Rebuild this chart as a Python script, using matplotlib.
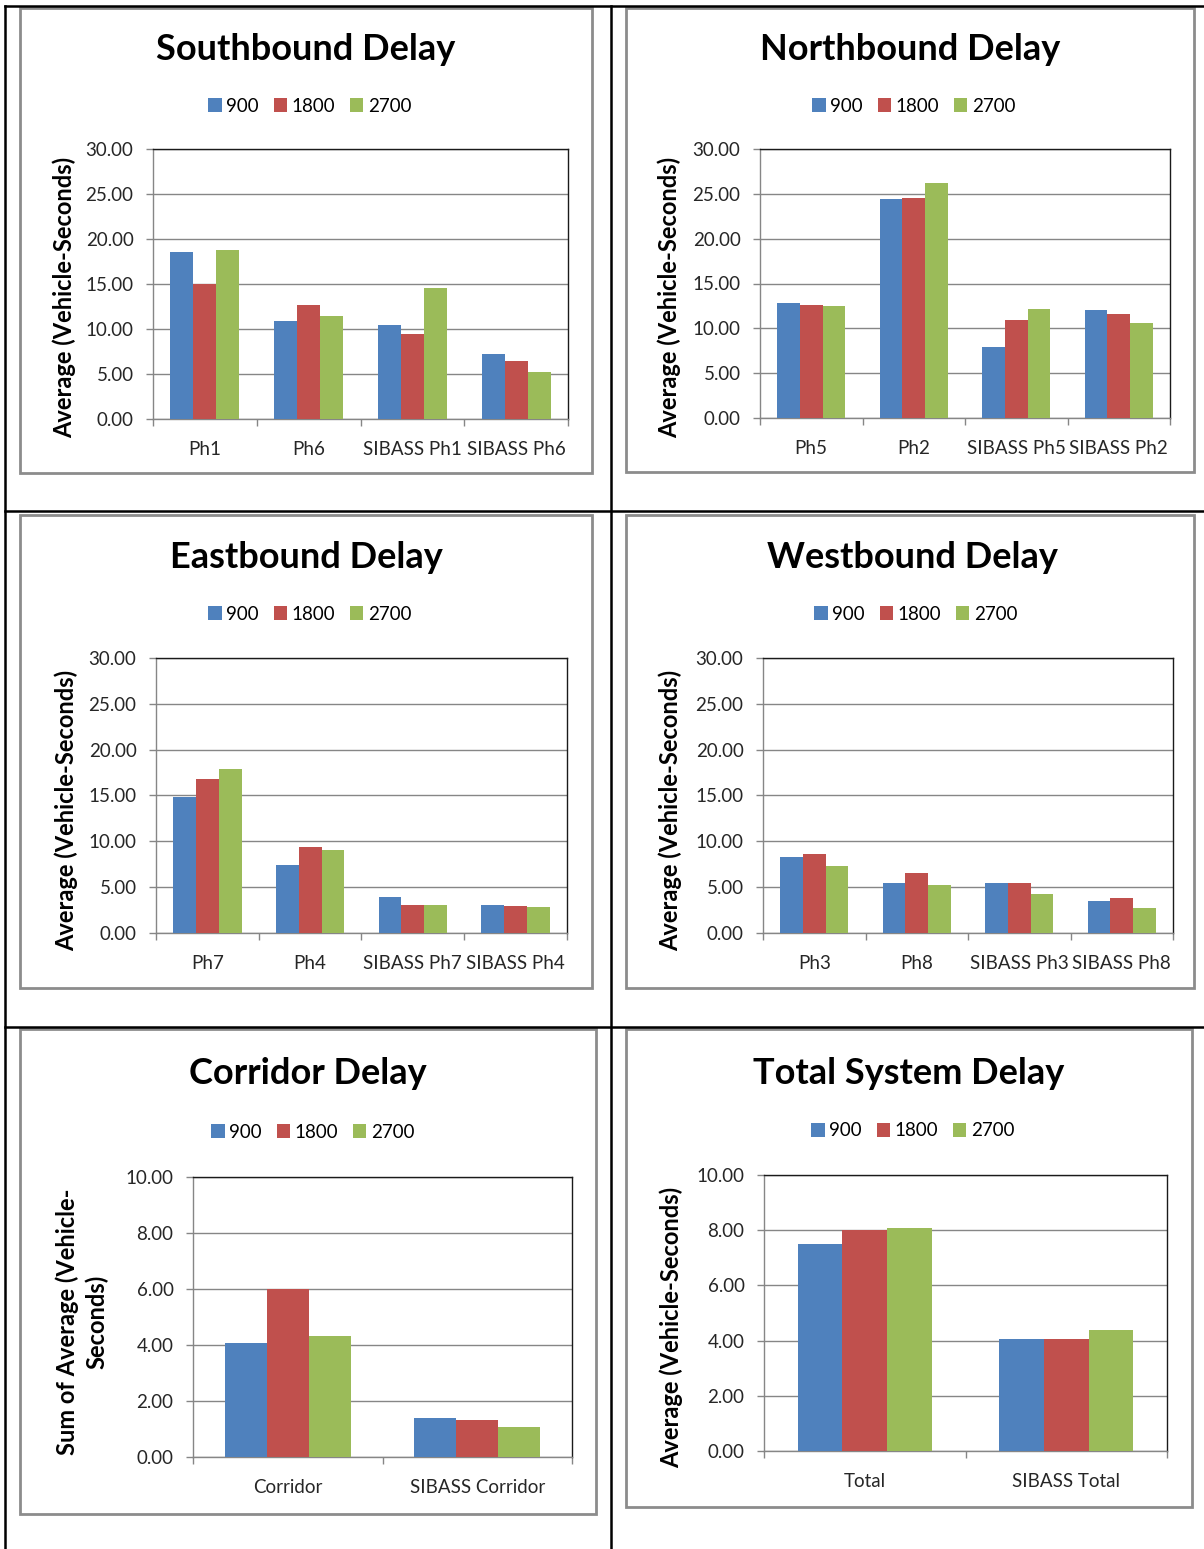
import matplotlib
matplotlib.use("Agg")
import matplotlib.pyplot as plt
from matplotlib.patches import Rectangle
from matplotlib.lines import Line2D
import numpy as np

plt.rcParams['font.family'] = ['Lato', 'DejaVu Sans']

# ---------------- data ----------------
series_labels = ["900", "1800", "2700"]
series_colors = ["#4F81BD", "#C0504D", "#9BBB59"]

sb_cats = ["Ph1", "Ph6", "SIBASS Ph1", "SIBASS Ph6"]
sb_900 = [18.6, 10.9, 10.5, 7.2]
sb_1800 = [15.0, 12.7, 9.5, 6.5]
sb_2700 = [18.8, 11.5, 14.6, 5.2]

nb_cats = ["Ph5", "Ph2", "SIBASS Ph5", "SIBASS Ph2"]
nb_900 = [12.8, 24.4, 7.9, 12.0]
nb_1800 = [12.6, 24.5, 10.9, 11.6]
nb_2700 = [12.5, 26.2, 12.2, 10.6]

eb_cats = ["Ph7", "Ph4", "SIBASS Ph7", "SIBASS Ph4"]
eb_900 = [14.8, 7.4, 3.9, 3.0]
eb_1800 = [16.8, 9.4, 3.0, 2.9]
eb_2700 = [17.9, 9.0, 3.0, 2.8]

wb_cats = ["Ph3", "Ph8", "SIBASS Ph3", "SIBASS Ph8"]
wb_900 = [8.3, 5.4, 5.4, 3.5]
wb_1800 = [8.6, 6.5, 5.4, 3.8]
wb_2700 = [7.3, 5.2, 4.3, 2.7]

corr_cats = ["Corridor", "SIBASS Corridor"]
corr_900 = [4.07, 1.38]
corr_1800 = [6.00, 1.31]
corr_2700 = [4.31, 1.07]

tot_cats = ["Total", "SIBASS Total"]
tot_900 = [7.51, 4.05]
tot_1800 = [8.00, 4.05]
tot_2700 = [8.08, 4.39]

titles = ["Southbound Delay", "Northbound Delay", "Eastbound Delay",
          "Westbound Delay", "Corridor Delay", "Total System Delay"]
ylabels = ["Average (Vehicle-Seconds)"] * 4 + ["Sum of Average (Vehicle-\nSeconds)",
                                                "Average (Vehicle-Seconds)"]

# ---------------- layout (pixels) ----------------
W, H = 1204, 1549
fig = plt.figure(figsize=(W / 100, H / 100), dpi=100)
fig.patch.set_facecolor("white")


def fx(x):
    return x / W


def fy(y):
    return 1 - y / H


# table lines
for (x0, y0, x1, y1) in [(5, 6, 1204, 6), (5, 511, 1204, 511), (5, 1027, 1204, 1027),
                         (5, 6, 5, 1549), (611, 6, 611, 1549)]:
    fig.add_artist(Line2D([fx(x0), fx(x1)], [fy(y0), fy(y1)], color="black", lw=1.8,
                          transform=fig.transFigure))

panels = [
    dict(border=(20, 8, 592, 473), plot=(153, 149, 568, 419), title=(306, 49),
         legend=(310, 106), ylab=(64, 297), ymax=30, step=5,
         cats=sb_cats, vals=[sb_900, sb_1800, sb_2700]),
    dict(border=(626, 8, 1194, 472), plot=(760, 149, 1170, 418), title=(910, 49),
         legend=(914, 106), ylab=(669, 297), ymax=30, step=5,
         cats=nb_cats, vals=[nb_900, nb_1800, nb_2700]),
    dict(border=(20, 515, 592, 988), plot=(156, 658, 567, 933), title=(306, 557),
         legend=(310, 614), ylab=(66, 810), ymax=30, step=5,
         cats=eb_cats, vals=[eb_900, eb_1800, eb_2700]),
    dict(border=(626, 515, 1194, 988), plot=(763, 658, 1173, 933), title=(912, 557),
         legend=(916, 614), ylab=(670, 810), ymax=30, step=5,
         cats=wb_cats, vals=[wb_900, wb_1800, wb_2700]),
    dict(border=(20, 1029, 596, 1514), plot=(193, 1177, 572, 1457), title=(308, 1074),
         legend=(313, 1132), ylab=(82, 1322), ymax=10, step=2,
         cats=corr_cats, vals=[corr_900, corr_1800, corr_2700]),
    dict(border=(626, 1029, 1192, 1507), plot=(764, 1175, 1167, 1451), title=(909, 1074),
         legend=(913, 1131), ylab=(671, 1327), ymax=10, step=2,
         cats=tot_cats, vals=[tot_900, tot_1800, tot_2700]),
]

grid_col = "#868686"
fs = 13.5

for i, p in enumerate(panels):
    bx0, by0, bx1, by1 = p["border"]
    fig.add_artist(Rectangle((fx(bx0), fy(by1)), fx(bx1 - bx0), (by1 - by0) / H,
                             fill=False, edgecolor="#8C8C8C", lw=2.0,
                             transform=fig.transFigure))
    x0, y0, x1, y1 = p["plot"]
    ax = fig.add_axes([fx(x0), fy(y1), fx(x1 - x0), (y1 - y0) / H])
    cats = p["cats"]
    n = len(cats)
    centers = np.arange(n) + 0.5
    bw = 0.222
    handles = []
    for k, (vals, lab, col) in enumerate(zip(p["vals"], series_labels, series_colors)):
        b = ax.bar(centers + (k - 1) * bw, vals, width=bw, color=col, label=lab,
                   zorder=3, linewidth=0)
        handles.append(b)
    ax.set_xlim(0, n)
    ax.set_ylim(0, p["ymax"])
    ticks = np.arange(0, p["ymax"] + 0.001, p["step"])
    ax.set_yticks(ticks)
    ax.set_yticklabels([f"{v:.2f}" for v in ticks], fontsize=fs, color="#262626")
    ax.yaxis.grid(True, color=grid_col, lw=1.0, zorder=0)
    ax.set_axisbelow(True)
    ax.tick_params(axis="y", length=5, width=1, color=grid_col, pad=9)
    ax.set_xticks(centers)
    ax.set_xticklabels(cats, fontsize=fs, color="#262626")
    ax.set_xticks(np.arange(n + 1), minor=True)
    ax.tick_params(axis="x", which="major", length=0, pad=16)
    ax.tick_params(axis="x", which="minor", length=5, width=1, color=grid_col)
    for s in ["left", "bottom"]:
        ax.spines[s].set_color(grid_col)
        ax.spines[s].set_linewidth(1.0)
    for s in ["top", "right"]:
        ax.spines[s].set_color("#1a1a1a")
        ax.spines[s].set_linewidth(1.0)

    tx, ty = p["title"]
    fig.text(fx(tx), fy(ty), titles[i], ha="center", va="center", fontsize=26,
             fontweight="bold", color="black")
    lx, ly = p["legend"]
    ax.legend(handles=handles, loc="center", bbox_to_anchor=(fx(lx), fy(ly)),
              bbox_transform=fig.transFigure, ncol=3, frameon=False, fontsize=fs,
              handlelength=0.7, handleheight=0.7, handletextpad=0.25,
              columnspacing=0.8, borderpad=0)
    yx, yy = p["ylab"]
    fig.text(fx(yx), fy(yy), ylabels[i], ha="center", va="center", rotation=90,
             fontsize=17, fontweight="bold", color="black", multialignment="center",
             linespacing=1.3)

fig.savefig("out.png", dpi=100, facecolor="white")
